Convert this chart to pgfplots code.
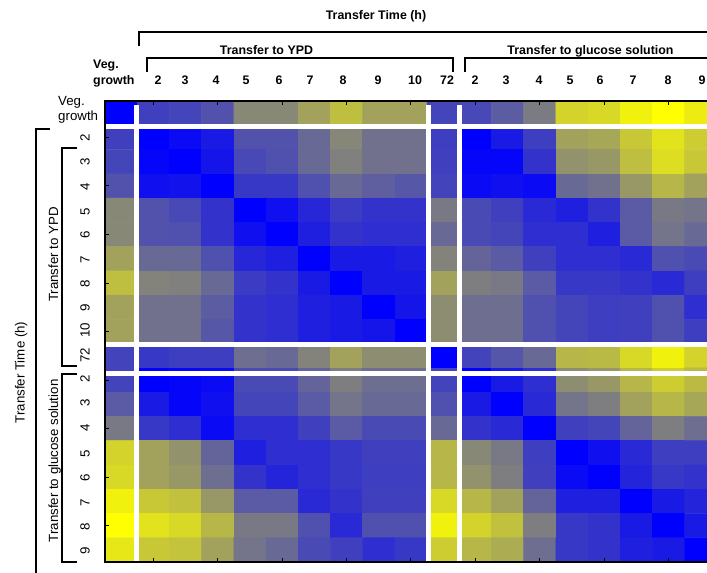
\documentclass[border=0pt]{standalone}
\usepackage{pgfplots}
\pgfplotsset{compat=1.18}
\usepackage{fontspec}
\setmainfont{Liberation Sans}
\newcommand{\tf}{\fontsize{13.3}{16}\selectfont}
\newcommand{\tb}{\fontsize{12.4}{15}\selectfont\bfseries}
\begin{document}
\begin{tikzpicture}[x=1pt,y=1pt]
\begin{axis}[
  at={(105pt,-562pt)}, anchor=south west,
  scale only axis, width=611.8pt, height=461pt,
  xmin=-0.5, xmax=18.5, ymin=-0.5, ymax=18.5, y dir=reverse,
  axis on top,
  xtick={1,3,...,17}, ytick={1,3,...,17},
  xticklabels={}, yticklabels={},
  tick align=inside, major tick length=4pt,
  every tick/.style={black, line width=0.9pt},
  axis line style={black, line width=1.1pt},
  colormap={by}{rgb255=(0,0,255) rgb255=(255,255,0)},
  point meta min=0, point meta max=1,
]
\addplot[matrix plot*, mesh/cols=19, point meta=explicit] table[x=x,y=y,meta=c] {
x y c
0 0 0
1 0 .25
2 0 .27
3 0 .32
4 0 .53
5 0 .53
6 0 .63
7 0 .74
8 0 .63
9 0 .63
10 0 .27
11 0 .28
12 0 .36
13 0 .48
14 0 .82
15 0 .84
16 0 .94
17 0 1.0
18 0 .92
0 1 .25
1 1 0
2 1 .04
3 1 .10
4 1 .32
5 1 .32
6 1 .41
7 1 .52
8 1 .44
9 1 .44
10 1 .24
11 1 0
12 1 .10
13 1 .24
14 1 .63
15 1 .65
16 1 .78
17 1 .88
18 1 .80
0 2 .27
1 2 .02
2 2 0
3 2 .08
4 2 .28
5 2 .31
6 2 .41
7 2 .50
8 2 .44
9 2 .44
10 2 .25
11 2 .02
12 2 .02
13 2 .20
14 2 .57
15 2 .59
16 2 .74
17 2 .86
18 2 .78
0 3 .32
1 3 .06
2 3 .07
3 3 0
4 3 .22
5 3 .22
6 3 .31
7 3 .41
8 3 .37
9 3 .34
10 3 .26
11 3 .04
12 3 .06
13 3 .04
14 3 .41
15 3 .44
16 3 .59
17 3 .71
18 3 .63
0 4 .53
1 4 .32
2 4 .28
3 4 .20
4 4 0
5 4 .06
6 4 .15
7 4 .23
8 4 .20
9 4 .20
10 4 .47
11 4 .29
12 4 .25
13 4 .16
14 4 .12
15 4 .20
16 4 .35
17 4 .47
18 4 .45
0 5 .53
1 5 .32
2 5 .31
3 5 .20
4 5 .06
5 5 0
6 5 .12
7 5 .20
8 5 .18
9 5 .18
10 5 .41
11 5 .29
12 5 .27
13 5 .18
14 5 .18
15 5 .12
16 5 .35
17 5 .45
18 5 .41
0 6 .63
1 6 .41
2 6 .41
3 6 .31
4 6 .15
5 6 .12
6 6 0
7 6 .10
8 6 .10
9 6 .12
10 6 .51
11 6 .39
12 6 .35
13 6 .25
14 6 .18
15 6 .18
16 6 .16
17 6 .31
18 6 .29
0 7 .74
1 7 .51
2 7 .50
3 7 .41
4 7 .23
5 7 .20
6 7 .10
7 7 0
8 7 .10
9 7 .10
10 7 .63
11 7 .49
12 7 .47
13 7 .35
14 7 .22
15 7 .22
16 7 .20
17 7 .16
18 7 .24
0 8 .63
1 8 .44
2 8 .44
3 8 .36
4 8 .20
5 8 .18
6 8 .12
7 8 .10
8 8 0
9 8 .08
10 8 .55
11 8 .43
12 8 .43
13 8 .31
14 8 .27
15 8 .24
16 8 .25
17 8 .31
18 8 .18
0 9 .63
1 9 .44
2 9 .44
3 9 .34
4 9 .20
5 9 .18
6 9 .12
7 9 .10
8 9 .08
9 9 0
10 9 .55
11 9 .43
12 9 .43
13 9 .31
14 9 .27
15 9 .24
16 9 .25
17 9 .31
18 9 .24
0 10 .26
1 10 .22
2 10 .24
3 10 .24
4 10 .43
5 10 .41
6 10 .51
7 10 .63
8 10 .55
9 10 .55
10 10 0
11 10 .26
12 10 .33
13 10 .41
14 10 .71
15 10 .72
16 10 .84
17 10 .94
18 10 .82
0 11 .26
1 11 0
2 11 .02
3 11 .04
4 11 .29
5 11 .29
6 11 .39
7 11 .49
8 11 .43
9 11 .43
10 11 .26
11 11 0
12 11 .10
13 11 .18
14 11 .55
15 11 .59
16 11 .71
17 11 .80
18 11 .73
0 12 .35
1 12 .10
2 12 .02
3 12 .06
4 12 .27
5 12 .27
6 12 .35
7 12 .45
8 12 .41
9 12 .41
10 12 .31
11 12 .10
12 12 0
13 12 .16
14 12 .45
15 12 .49
16 12 .63
17 12 .71
18 12 .65
0 13 .47
1 13 .22
2 13 .18
3 13 .04
4 13 .18
5 13 .18
6 13 .25
7 13 .35
8 13 .29
9 13 .29
10 13 .41
11 13 .20
12 13 .16
13 13 0
14 13 .25
15 13 .27
16 13 .39
17 13 .49
18 13 .43
0 14 .82
1 14 .63
2 14 .57
3 14 .39
4 14 .12
5 14 .18
6 14 .18
7 14 .22
8 14 .25
9 14 .25
10 14 .71
11 14 .53
12 14 .47
13 14 .24
14 14 0
15 14 .06
16 14 .16
17 14 .24
18 14 .24
0 15 .84
1 15 .63
2 15 .59
3 15 .43
4 15 .20
5 15 .14
6 15 .18
7 15 .22
8 15 .24
9 15 .24
10 15 .71
11 15 .57
12 15 .49
13 15 .25
14 15 .04
15 15 0
16 15 .14
17 15 .22
18 15 .20
0 16 .94
1 16 .78
2 16 .75
3 16 .59
4 16 .35
5 16 .35
6 16 .16
7 16 .20
8 16 .25
9 16 .25
10 16 .84
11 16 .71
12 16 .63
13 16 .39
14 16 .12
15 16 .12
16 16 0
17 16 .10
18 16 .14
0 17 1.0
1 17 .88
2 17 .84
3 17 .71
4 17 .47
5 17 .47
6 17 .31
7 17 .16
8 17 .31
9 17 .31
10 17 .94
11 17 .82
12 17 .75
13 17 .49
14 17 .22
15 17 .20
16 17 .10
17 17 0
18 17 .10
0 18 .90
1 18 .78
2 18 .76
3 18 .63
4 18 .45
5 18 .41
6 18 .29
7 18 .25
8 18 .18
9 18 .22
10 18 .80
11 18 .71
12 18 .67
13 18 .43
14 18 .22
15 18 .20
16 18 .12
17 18 .10
18 18 0
};
\draw[white, line width=5pt] (axis cs:0.478,-0.335) -- (axis cs:0.478,18.5);
\draw[white, line width=5pt] (axis cs:9.547,-0.335) -- (axis cs:9.547,18.5);
\draw[white, line width=5pt] (axis cs:10.51,-0.335) -- (axis cs:10.51,18.5);
\draw[white, line width=4.7pt] (axis cs:-0.5,0.551) -- (axis cs:18.5,0.551);
\draw[white, line width=4.7pt] (axis cs:-0.5,9.536) -- (axis cs:18.5,9.536);
\draw[white, line width=4.7pt] (axis cs:-0.5,10.732) -- (axis cs:18.5,10.732);
\end{axis}
% brackets
\begin{scope}[line width=1.1pt]
\draw (139,-46) -- (139,-32) -- (720,-32);
\draw (147,-72) -- (147,-58) -- (453,-58) -- (453,-72);
\draw (465,-72) -- (465,-58) -- (720,-58);
\draw (50,-129) -- (36,-129) -- (36,-580);
\draw (77,-148) -- (62,-148) -- (62,-366) -- (77,-366);
\draw (77,-374) -- (62,-374) -- (62,-562) -- (77,-562);
\end{scope}
% top labels
\node[font=\tb, anchor=base] at (376,-19.5) {Transfer Time (h)};
\node[font=\tb, anchor=base] at (266.5,-54.5) {Transfer to YPD};
\node[font=\tb, anchor=base] at (590.5,-54.5) {Transfer to glucose solution};
\node[font=\tb, anchor=base west, inner sep=0pt] at (93,-68) {Veg.};
\node[font=\tb, anchor=base west, inner sep=0pt] at (93,-84) {growth};
\foreach \xx/\lab in {158/2,185/3,216/4,246/5,279/6,310/7,343/8,378/9,415/10,447/72,475/2,506/3,539/4,570/5,600/6,633/7,668/8,702/9}
  \node[font=\tb, anchor=base, inner sep=0pt] at (\xx,-84) {\lab};
% left labels
\node[font=\tf, anchor=base west, inner sep=0pt] at (58,-105) {Veg.};
\node[font=\tf, anchor=base west, inner sep=0pt] at (58,-120) {growth};
\foreach \yy/\lab in {138/2,162/3,187/4,212/5,235/6,260/7,284/8,308/9,330/10,355/72,379/2,403/3,428/4,454/5,478/6,503/7,527/8,551/9}
  \node[font=\tf, rotate=90, anchor=center, inner sep=0pt] at (85,-\yy) {\lab};
\node[font=\tf, rotate=90, anchor=base] at (58,-254.5) {Transfer to YPD};
\node[font=\tf, rotate=90, anchor=base] at (58,-461) {Transfer to glucose solution};
\node[font=\tf, rotate=90, anchor=base] at (24.5,-372.5) {Transfer Time (h)};
\pgfresetboundingbox
\useasboundingbox (0,0) rectangle (707,-573);
\end{tikzpicture}
\end{document}
